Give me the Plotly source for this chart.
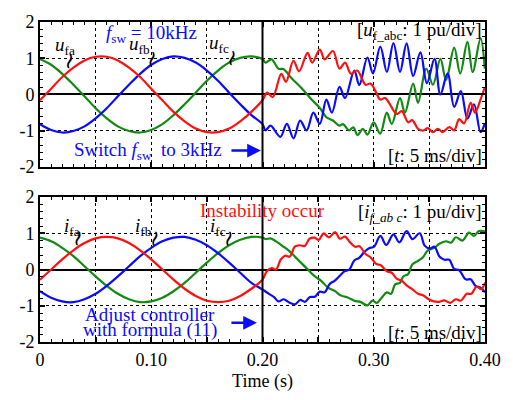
import plotly.graph_objects as go
from plotly.subplots import make_subplots

# ---------------- data ----------------
t_left = [0.00, 0.01, 0.02, 0.03, 0.04, 0.05, 0.06, 0.07, 0.08, 0.09, 0.10,
          0.11, 0.12, 0.13, 0.14, 0.15, 0.16, 0.17, 0.18, 0.19, 0.20]

# top panel, fsw = 10 kHz (0 - 0.2 s)
ua_left = [-0.16, 0.16, 0.48, 0.74, 0.94, 1.04, 1.04, 0.94, 0.74, 0.48, 0.16,
           -0.16, -0.48, -0.74, -0.94, -1.04, -1.04, -0.94, -0.74, -0.48, -0.16]
ub_left = [-0.82, -0.98, -1.05, -1.01, -0.88, -0.66, -0.38, -0.05, 0.27, 0.57, 0.82,
           0.98, 1.05, 1.01, 0.88, 0.66, 0.38, 0.05, -0.27, -0.57, -0.82]
uc_left = [0.98, 0.82, 0.57, 0.27, -0.05, -0.38, -0.66, -0.88, -1.01, -1.05, -0.98,
           -0.82, -0.57, -0.27, 0.05, 0.38, 0.66, 0.88, 1.01, 1.05, 0.98]

# top panel, fsw = 3 kHz (0.2 - 0.4 s)
t_ua_right = [0.2042, 0.2092, 0.2169, 0.2211, 0.2278, 0.2329, 0.2405, 0.2447, 0.2515, 0.2559,
              0.2633, 0.2692, 0.2742, 0.2795, 0.2851, 0.2926, 0.2970, 0.3018, 0.3058, 0.3103,
              0.3206, 0.3251, 0.3310, 0.3345, 0.3399, 0.3443, 0.3487, 0.3532, 0.3576, 0.3620,
              0.3679, 0.3723, 0.3768, 0.3812, 0.3871, 0.3910, 0.3960, 0.3998]
ua_right = [0.05, -0.07, 0.57, 0.35, 0.93, 0.64, 1.15, 0.88, 1.24, 0.97,
            1.20, 0.71, 0.88, 0.57, 0.66, 0.27, 0.30, 0.08, -0.14, -0.10,
            -0.54, -0.46, -0.77, -0.71, -0.95, -1.00, -0.93, -1.04, -0.95, -1.04,
            -0.90, -0.99, -0.68, -0.80, -0.23, -0.50, -0.14, 0.20]

t_ub_right = [0.2027, 0.2072, 0.2160, 0.2219, 0.2279, 0.2338, 0.2397, 0.2457, 0.2515, 0.2574,
              0.2624, 0.2692, 0.2742, 0.2825, 0.2870, 0.2943, 0.2993, 0.3059, 0.3118, 0.3177,
              0.3236, 0.3295, 0.3354, 0.3419, 0.3478, 0.3546, 0.3599, 0.3664, 0.3723, 0.3783,
              0.3842, 0.3901, 0.3960, 0.3998]
ub_right = [-0.99, -0.86, -1.17, -0.81, -1.21, -0.72, -0.99, -0.50, -0.81, -0.14,
            -0.50, 0.21, -0.10, 0.66, 0.26, 1.02, 0.58, 1.32, 0.62, 1.42,
            0.62, 1.41, 0.51, 1.16, 0.31, 0.98, 0.00, 0.58, -0.34, 0.09,
            -0.67, -0.27, -1.04, -0.80]

t_uc_right = [0.2027, 0.2081, 0.2145, 0.2187, 0.2264, 0.2352, 0.2441, 0.2515, 0.2574, 0.2633,
              0.2692, 0.2724, 0.2777, 0.2816, 0.2855, 0.2902, 0.2943, 0.2999, 0.3058, 0.3117,
              0.3162, 0.3236, 0.3280, 0.3354, 0.3398, 0.3472, 0.3532, 0.3599, 0.3650, 0.3723,
              0.3777, 0.3842, 0.3889, 0.3960, 0.3998]
uc_right = [0.88, 0.97, 0.71, 0.70, 0.44, 0.17, -0.14, -0.37, -0.63, -0.72,
            -0.86, -0.82, -0.99, -0.91, -1.12, -0.95, -1.11, -0.77, -1.08, -0.50,
            -0.81, -0.10, -0.50, 0.30, -0.23, 0.71, 0.27, 0.98, 0.40, 1.29,
            0.58, 1.45, 0.62, 1.55, 0.71]

# bottom panel, currents (0 - 0.2 s)
ia_left = [-0.28, 0.00, 0.28, 0.53, 0.73, 0.86, 0.90, 0.86, 0.73, 0.53, 0.28,
           0.00, -0.28, -0.53, -0.73, -0.86, -0.90, -0.86, -0.73, -0.53, -0.28]
ib_left = [-0.60, -0.78, -0.88, -0.90, -0.82, -0.67, -0.45, -0.19, 0.09, 0.37, 0.60,
           0.78, 0.88, 0.90, 0.82, 0.67, 0.45, 0.19, -0.09, -0.37, -0.55]
ic_left = [0.88, 0.78, 0.60, 0.37, 0.09, -0.19, -0.45, -0.67, -0.82, -0.90, -0.88,
           -0.78, -0.60, -0.37, -0.09, 0.19, 0.45, 0.67, 0.82, 0.90, 0.88]

# bottom panel, currents (0.2 - 0.4 s)
t_ia_right = [0.2039, 0.2083, 0.2122, 0.2163, 0.2202, 0.2246, 0.2290, 0.2335, 0.2379, 0.2423,
              0.2468, 0.2506, 0.2550, 0.2595, 0.2654, 0.2695, 0.2742, 0.2784, 0.2831, 0.2872,
              0.2926, 0.2970, 0.3020, 0.3067, 0.3118, 0.3162, 0.3206, 0.3251, 0.3304, 0.3345,
              0.3398, 0.3443, 0.3493, 0.3540, 0.3590, 0.3635, 0.3688, 0.3738, 0.3783, 0.3836,
              0.3877, 0.3924, 0.3966, 0.4000]
ia_right = [-0.05, 0.04, 0.00, 0.27, 0.38, 0.36, 0.63, 0.67, 0.65, 0.85,
            0.88, 0.82, 1.00, 0.89, 1.03, 0.85, 0.91, 0.76, 0.63, 0.64,
            0.43, 0.34, 0.16, 0.11, -0.05, -0.09, -0.25, -0.31, -0.46, -0.54,
            -0.67, -0.71, -0.82, -0.88, -0.89, -0.85, -0.92, -0.82, -0.86, -0.67,
            -0.67, -0.47, -0.54, -0.36]

t_ib_right = [0.2057, 0.2104, 0.2145, 0.2190, 0.2240, 0.2293, 0.2338, 0.2382, 0.2426, 0.2471,
              0.2515, 0.2559, 0.2604, 0.2648, 0.2692, 0.2736, 0.2781, 0.2825, 0.2869, 0.2914,
              0.2958, 0.3003, 0.3059, 0.3112, 0.3177, 0.3230, 0.3295, 0.3348, 0.3413, 0.3458,
              0.3502, 0.3546, 0.3590, 0.3635, 0.3679, 0.3723, 0.3768, 0.3827, 0.3871, 0.3915,
              0.3960, 0.4000]
ib_right = [-0.67, -0.76, -0.88, -0.82, -0.91, -0.96, -0.84, -0.89, -0.76, -0.75,
            -0.61, -0.63, -0.40, -0.31, -0.18, -0.05, 0.00, 0.25, 0.32, 0.48,
            0.59, 0.63, 0.93, 0.68, 0.97, 0.75, 1.06, 0.84, 1.00, 0.66,
            0.58, 0.63, 0.36, 0.27, 0.27, 0.02, -0.02, -0.27, -0.27, -0.45,
            -0.50, -0.63]

t_ic_right = [0.2027, 0.2072, 0.2116, 0.2175, 0.2234, 0.2293, 0.2352, 0.2411, 0.2471, 0.2530,
              0.2589, 0.2648, 0.2707, 0.2766, 0.2825, 0.2884, 0.2943, 0.2988, 0.3029, 0.3073,
              0.3118, 0.3156, 0.3192, 0.3236, 0.3265, 0.3310, 0.3345, 0.3398, 0.3443, 0.3487,
              0.3546, 0.3590, 0.3650, 0.3694, 0.3738, 0.3797, 0.3856, 0.3901, 0.3945, 0.4000]
ic_right = [0.84, 0.86, 0.79, 0.66, 0.53, 0.35, 0.17, -0.01, -0.19, -0.32,
            -0.50, -0.59, -0.72, -0.77, -0.86, -0.90, -0.99, -0.86, -0.92, -0.77,
            -0.63, -0.67, -0.41, -0.37, -0.19, -0.12, 0.13, 0.24, 0.34, 0.53,
            0.60, 0.71, 0.78, 0.74, 0.89, 0.80, 1.02, 0.93, 1.06, 1.05]

x_tickvals = [0, 0.05, 0.10, 0.15, 0.20, 0.25, 0.30, 0.35, 0.40]
x_ticktext = ["0", "", "0.10", "", "0.20", "", "0.30", "", "0.40"]
y_tickvals = [-2, -1, 0, 1, 2]
y_ticktext = ["-2", "-1", "0", "1", "2"]

RED = "#ff1010"
GREEN = "#118a11"
BLUE = "#0a0aff"
FONT = "Liberation Serif"

# ---------------- figure ----------------
fig = make_subplots(rows=2, cols=1, vertical_spacing=0.0942)


def add(row, tl, yl, tr, yr, color):
    fig.add_trace(go.Scatter(x=tl + tr, y=yl + yr, mode="lines",
                             line=dict(color=color, width=2.2, shape="spline", smoothing=1.0),
                             showlegend=False, hoverinfo="skip"), row=row, col=1)


add(1, t_left, uc_left, t_uc_right, uc_right, GREEN)
add(1, t_left, ub_left, t_ub_right, ub_right, BLUE)
add(1, t_left, ua_left, t_ua_right, ua_right, RED)
add(2, t_left, ic_left, t_ic_right, ic_right, GREEN)
add(2, t_left, ib_left, t_ib_right, ib_right, BLUE)
add(2, t_left, ia_left, t_ia_right, ia_right, RED)

for r in (1, 2):
    fig.update_xaxes(row=r, col=1, range=[0, 0.4], tickmode="array",
                     tickvals=x_tickvals, ticktext=x_ticktext, showticklabels=(r == 2),
                     ticks="inside", ticklen=5, tickwidth=1.5, tickcolor="black",
                     showline=True, linewidth=2, linecolor="black", mirror="ticks",
                     showgrid=True, gridcolor="black", griddash="dot", gridwidth=1,
                     zeroline=False,
                     minor=dict(tickmode="linear", tick0=0, dtick=0.01, ticks="inside",
                                ticklen=3, tickwidth=1, tickcolor="black", showgrid=False),
                     tickfont=dict(family=FONT, size=18, color="black"))
    fig.update_yaxes(row=r, col=1, range=[-2, 2], tickmode="array",
                     tickvals=y_tickvals, ticktext=y_ticktext,
                     ticks="inside", ticklen=5, tickwidth=1.5, tickcolor="black",
                     showline=True, linewidth=2, linecolor="black", mirror="ticks",
                     showgrid=True, gridcolor="black", griddash="dot", gridwidth=1,
                     zeroline=True, zerolinecolor="black", zerolinewidth=2,
                     minor=dict(tickmode="linear", tick0=0, dtick=0.2, ticks="inside",
                                ticklen=3, tickwidth=1, tickcolor="black", showgrid=False),
                     tickfont=dict(family=FONT, size=18, color="black"))

fig.update_xaxes(row=2, col=1, title=dict(text="Time (s)", standoff=6,
                                          font=dict(family=FONT, size=18, color="black")))

fig.add_vline(x=0.2, line=dict(color="black", width=2), row="all", col=1)


def ann(xr, yr, x, y, text, color="black", size=19, family=FONT, **kw):
    fig.add_annotation(xref=xr, yref=yr, x=x, y=y, text=text, showarrow=False,
                       font=dict(family=family, size=size, color=color), **kw)


def squiggle(xr, yr, x, y):
    ann(xr, yr, x, y, "~", size=22, family="DejaVu Sans", textangle=105, borderpad=0)


def arrow(xr, yr, x, y, ax):
    fig.add_annotation(xref=xr, yref=yr, x=x, y=y, ax=ax, ay=0, text="",
                       showarrow=True, arrowhead=2, arrowsize=1.1, arrowwidth=2.5,
                       arrowcolor=BLUE)


# top panel text
ann("x", "y", 0.100, 1.66, "<i>f</i><sub>sw</sub> = 10kHz", BLUE)
ann("x", "y", 0.0225, 1.33, "<i>u</i><sub>fa</sub>")
squiggle("x", "y", 0.0275, 0.92)
ann("x", "y", 0.0895, 1.36, "<i>u</i><sub>fb</sub>")
squiggle("x", "y", 0.1012, 0.99)
ann("x", "y", 0.161, 1.40, "<i>u</i><sub>fc</sub>")
squiggle("x", "y", 0.1730, 0.99)
ann("x", "y", 0.0975, -1.55, "Switch <i>f</i><sub>sw</sub>  to 3kHz", BLUE)
arrow("x", "y", 0.1986, -1.55, -31)
ann("x", "y", 0.399, 1.74, "[<i>u</i><sub>f_abc</sub>: 1 pu/div]", xanchor="right")
ann("x", "y", 0.399, -1.69, "[<i>t</i>: 5 ms/div]", xanchor="right")

# bottom panel text
ann("x2", "y2", 0.200, 1.63, "Instability occur", RED)
ann("x2", "y2", 0.399, 1.55, "[<i>i</i><sub><i>f_ab c</i></sub>: 1 pu/div]", xanchor="right")
ann("x2", "y2", 0.399, -1.74, "[<i>t</i>: 5 ms/div]", xanchor="right")
ann("x2", "y2", 0.0284, 1.17, "<i>i</i><sub>fa</sub>")
squiggle("x2", "y2", 0.0345, 0.85)
ann("x2", "y2", 0.093, 1.17, "<i>i</i><sub>fb</sub>")
squiggle("x2", "y2", 0.1035, 0.85)
ann("x2", "y2", 0.160, 1.17, "<i>i</i><sub>fc</sub>")
squiggle("x2", "y2", 0.1700, 0.85)
ann("x2", "y2", 0.099, -1.24, "Adjust controller", BLUE)
ann("x2", "y2", 0.099, -1.67, "with formula (11)", BLUE)
arrow("x2", "y2", 0.195, -1.47, -27)

fig.update_layout(width=513, height=400, margin=dict(l=40, r=22, t=15, b=56),
                  plot_bgcolor="white", paper_bgcolor="white",
                  font=dict(family=FONT, color="black"), showlegend=False)

fig.write_html("out.html")
